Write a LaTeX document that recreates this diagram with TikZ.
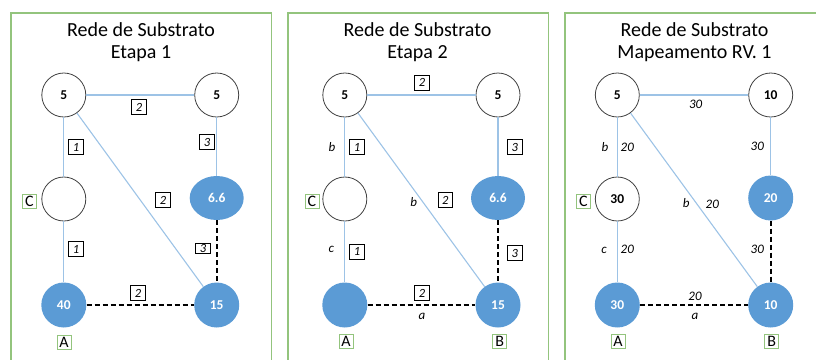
\documentclass[tikz,border=0pt]{standalone}
\usepackage{fontspec}
\setmainfont{Carlito}
\usetikzlibrary{shapes.geometric}
\definecolor{nodeblue}{HTML}{5B9BD5}
\definecolor{linkblue}{HTML}{9DC3E6}
\definecolor{framegreen}{HTML}{93C47D}
\definecolor{ringgray}{HTML}{404040}
\tikzset{
  frame/.style={draw=framegreen, line width=1.2pt},
  title/.style={align=center, font=\fontsize{20}{22.5}\selectfont},
  wnode/.style={circle, draw=ringgray, line width=0.8pt, fill=white, minimum size=44pt, inner sep=0pt, font=\fontsize{13.5}{15}\selectfont\bfseries},
  bnode/.style={circle, fill=nodeblue, text=white, minimum size=45pt, inner sep=0pt, font=\fontsize{13.5}{15}\selectfont\bfseries},
  bell/.style={ellipse, fill=nodeblue, text=white, minimum width=54pt, minimum height=44pt, inner sep=0pt, font=\fontsize{13.5}{15}\selectfont\bfseries},
  link/.style={draw=linkblue, line width=1.1pt},
  dlink/.style={draw=black, line width=2pt, dash pattern=on 5pt off 3pt},
  lbox/.style={draw=black, line width=0.7pt, minimum width=14.5pt, minimum height=14.5pt, inner sep=0pt, font=\fontsize{12.5}{14}\selectfont\itshape},
  lsquash/.style={lbox, minimum height=10pt},
  ltxt/.style={inner sep=0pt, font=\fontsize{13}{15}\selectfont\itshape},
  tag/.style={draw=framegreen, line width=1pt, minimum width=14pt, minimum height=14pt, inner sep=0.5pt, font=\fontsize{16}{17}\selectfont},
}
\begin{document}
\begin{tikzpicture}[x=1pt, y=-1pt]
\useasboundingbox (0,0) rectangle (816,359);

% panel frames (open at the bottom)
\draw[frame] (11,370) -- (11,13) -- (271.5,13) -- (271.5,370);
\draw[frame] (288,370) -- (288,13) -- (548.5,13) -- (548.5,370);
\draw[frame] (565,370) -- (565,13) -- (830,13);

% ---------- panel 1: Etapa 1 ----------
\node[title] (t1) at (141,42) {Rede de Substrato\\Etapa 1};
\node[wnode] (a1) at (63.8,95) {5};
\node[wnode] (b1) at (216.7,95) {5};
\node[wnode] (c1) at (63.8,199) {};
\node[bell]  (d1) at (216.7,198) {6.6};
\node[bnode] (e1) at (63.8,305) {40};
\node[bnode] (f1) at (216.7,305) {15};
\draw[link] (a1) -- (b1);
\draw[link] (a1) -- (c1);
\draw[link] (c1) -- (e1);
\draw[link] (b1) -- (d1);
\draw[link] (a1) -- (f1);
\draw[dlink] (d1) -- (f1);
\draw[dlink] (e1) -- (f1);
\node[lbox] (l11) at (139,107) {2};
\node[lbox] (l12) at (76,147) {1};
\node[lbox] (l13) at (207,142) {3};
\node[lbox] (l14) at (163,200) {2};
\node[lbox] (l15) at (76,249) {1};
\node[lsquash] (l16) at (203,248) {3};
\node[lbox] (l17) at (138,293) {2};
\node[tag] (g1c) at (29.5,201) {C};
\node[tag] (g1a) at (64,342) {A};

% ---------- panel 2: Etapa 2 ----------
\node[title] (t2) at (417.5,42) {Rede de Substrato\\Etapa 2};
\node[wnode] (a2) at (344.8,95) {5};
\node[wnode] (b2) at (498,95) {5};
\node[wnode] (c2) at (344.8,199) {};
\node[bell]  (d2) at (498,198) {6.6};
\node[bnode] (e2) at (344.8,305) {};
\node[bnode] (f2) at (498,305) {15};
\draw[link] (a2) -- (b2);
\draw[link] (a2) -- (c2);
\draw[link] (c2) -- (e2);
\draw[link] (b2) -- (d2);
\draw[link] (a2) -- (f2);
\draw[dlink] (d2) -- (f2);
\draw[dlink] (e2) -- (f2);
\node[lbox] (l21) at (422,82.7) {2};
\node[ltxt] (m21) at (332,147) {b};
\node[lbox] (l22) at (357,147) {1};
\node[lbox] (l23) at (514.7,147) {3};
\node[ltxt] (m22) at (413.7,201.7) {b};
\node[lbox] (l24) at (445.3,200) {2};
\node[ltxt] (m23) at (331.3,249) {c};
\node[lbox] (l25) at (357,251.7) {1};
\node[lbox] (l26) at (514.7,253) {3};
\node[lbox] (l27) at (422,293) {2};
\node[ltxt] (m24) at (422,316.7) {a};
\node[tag] (g2c) at (312,201) {C};
\node[tag] (g2a) at (346,341.7) {A};
\node[tag] (g2b) at (499.7,341.7) {B};

% ---------- panel 3: Mapeamento RV. 1 ----------
\node[title] (t3) at (694.5,42) {Rede de Substrato\\Mapeamento RV. 1};
\node[wnode] (a3) at (617.3,95) {5};
\node[wnode] (b3) at (770.7,95) {10};
\node[wnode] (c3) at (617.3,199) {30};
\node[bnode] (d3) at (770.7,198) {20};
\node[bnode] (e3) at (617.3,305) {30};
\node[bnode] (f3) at (770.7,305) {10};
\draw[link] (a3) -- (b3);
\draw[link] (a3) -- (c3);
\draw[link] (c3) -- (e3);
\draw[link] (b3) -- (d3);
\draw[link] (a3) -- (f3);
\draw[dlink] (d3) -- (f3);
\draw[dlink] (e3) -- (f3);
\node[ltxt] (n31) at (695.7,104.3) {30};
\node[ltxt] (m31) at (605,147) {b};
\node[ltxt] (n32) at (627.3,147) {20};
\node[ltxt] (n33) at (757.3,146) {30};
\node[ltxt] (m32) at (686.3,202.7) {b};
\node[ltxt] (n34) at (712.3,204) {20};
\node[ltxt] (m33) at (604,250) {c};
\node[ltxt] (n35) at (627.3,249.3) {20};
\node[ltxt] (n36) at (757.3,249.3) {30};
\node[ltxt] (n37) at (695,296) {20};
\node[ltxt] (m34) at (695,316.7) {a};
\node[tag] (g3c) at (583.3,201) {C};
\node[tag] (g3a) at (618,341.7) {A};
\node[tag] (g3b) at (771.7,341.7) {B};
\end{tikzpicture}
\end{document}
